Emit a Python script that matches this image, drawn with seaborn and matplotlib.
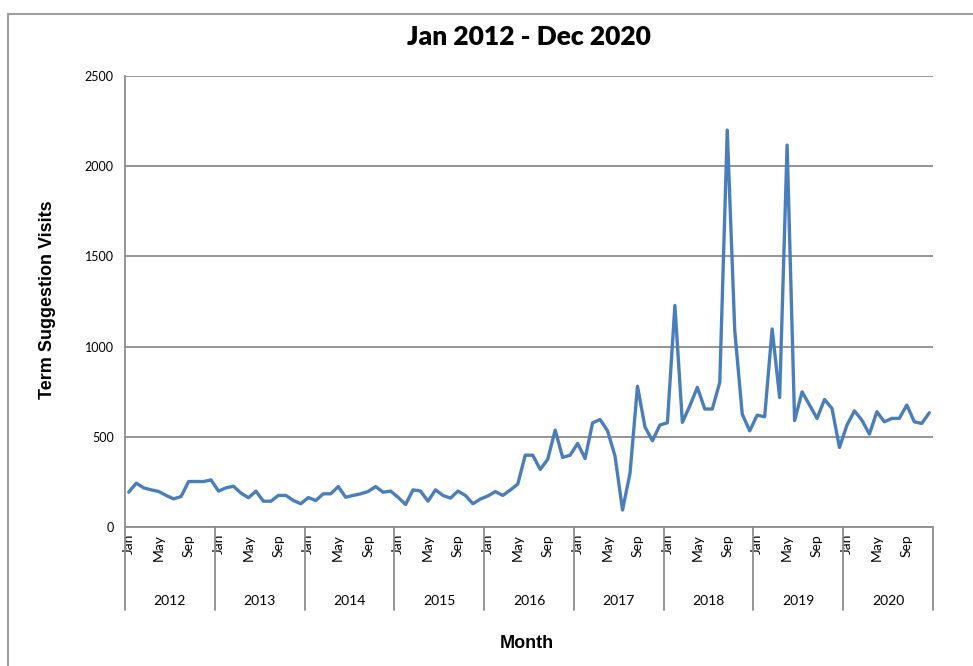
import numpy as np
import pandas as pd
import matplotlib
matplotlib.use("Agg")
import matplotlib.pyplot as plt
import matplotlib.transforms as mtransforms
from matplotlib.patches import Rectangle
import seaborn as sns

# monthly visits
years = [2012, 2013, 2014, 2015, 2016, 2017, 2018, 2019, 2020]
month_names = ["Jan", "Feb", "Mar", "Apr", "May", "Jun",
               "Jul", "Aug", "Sep", "Oct", "Nov", "Dec"]
shown_months = ["Jan", "May", "Sep"]

visits_2012 = [193, 243, 217, 206, 197, 175, 156, 169, 252, 252, 252, 261]
visits_2013 = [199, 217, 226, 188, 162, 199, 143, 143, 175, 175, 147, 129]
visits_2014 = [163, 147, 184, 184, 224, 165, 175, 184, 197, 224, 193, 199]
visits_2015 = [165, 125, 206, 199, 143, 206, 175, 160, 199, 175, 129, 155]
visits_2016 = [172, 196, 175, 205, 238, 398, 398, 319, 375, 537, 386, 398]
visits_2017 = [463, 380, 577, 596, 533, 393, 94, 297, 780, 555, 478, 565]
visits_2018 = [578, 1228, 580, 672, 774, 654, 654, 802, 2200, 1089, 626, 533]
visits_2019 = [620, 611, 1098, 718, 2117, 590, 749, 676, 602, 707, 657, 441]
visits_2020 = [565, 644, 592, 515, 639, 583, 602, 602, 676, 583, 574, 633]

all_visits = (visits_2012 + visits_2013 + visits_2014 + visits_2015 + visits_2016
              + visits_2017 + visits_2018 + visits_2019 + visits_2020)

df = pd.DataFrame({
    "year": np.repeat(years, 12),
    "month": month_names * len(years),
    "visits": all_visits,
})
df["idx"] = np.arange(len(df))

sns.set_style("white")
plt.rcParams["font.family"] = ["Lato", "DejaVu Sans"]
plt.rcParams["text.color"] = "black"
plt.rcParams["xtick.color"] = "black"
plt.rcParams["ytick.color"] = "black"

fig = plt.figure(figsize=(9.73, 6.66), dpi=100)
ax = fig.add_axes([125 / 973, 1 - 527 / 666, (933 - 125) / 973, (527 - 76) / 666])

sns.lineplot(data=df, x="idx", y="visits", color="#4a7ebb", linewidth=2.4, ax=ax)

ax.set_xlim(-0.5, len(df) - 0.5)
ax.set_ylim(0, 2500)
ax.set_yticks(range(0, 2501, 500))
ax.yaxis.grid(True, color="#8c8c8c", linewidth=1.3)
ax.set_axisbelow(True)
for s in ["top", "right", "bottom"]:
    ax.spines[s].set_visible(False)
ax.spines["left"].set_color("#8c8c8c")
ax.spines["left"].set_linewidth(1.3)
ax.tick_params(axis="y", length=5, width=1.3, color="#8c8c8c",
               labelcolor="black", labelsize=9, pad=3)

# month tick labels
sel = df[df["month"].isin(shown_months)]
ax.set_xticks(sel["idx"])
ax.set_xticklabels(sel["month"], rotation=90, fontsize=10, va="top")
ax.tick_params(axis="x", length=0, pad=5, labelcolor="black")
ax.set_xlabel("")
ax.set_ylabel("")

# year group labels and separators
trans = mtransforms.blended_transform_factory(ax.transData, ax.transAxes)
for k, yr in enumerate(years):
    ax.text(k * 12 + 5.5, -0.165, str(yr), transform=trans,
            ha="center", va="center", fontsize=10)
for k in range(len(years) + 1):
    ax.plot([k * 12 - 0.5, k * 12 - 0.5], [0, -0.185], transform=trans,
            color="#8c8c8c", linewidth=1.3, clip_on=False)
ax.plot([-0.5, len(df) - 0.5], [0, 0], transform=trans,
        color="#8c8c8c", linewidth=1.3, clip_on=False)

ax.set_title("Jan 2012 - Dec 2020", fontsize=19, fontweight="heavy", pad=22)
fig.text(48 / 973, 1 - 300 / 666, "Term Suggestion Visits", rotation=90,
         ha="center", va="center", fontsize=13, fontweight="bold",
         family="Liberation Sans")
fig.text(527 / 973, 1 - 643 / 666, "Month", ha="center", va="center",
         fontsize=13, fontweight="bold", family="Liberation Sans")

# outer chart frame
fig.patches.append(Rectangle((8 / 973, -0.05), 1.1, 1 - 14 / 666 + 0.05,
                             transform=fig.transFigure, fill=False,
                             edgecolor="#a0a0a0", linewidth=1.5))

fig.savefig("out.png", dpi=100)
